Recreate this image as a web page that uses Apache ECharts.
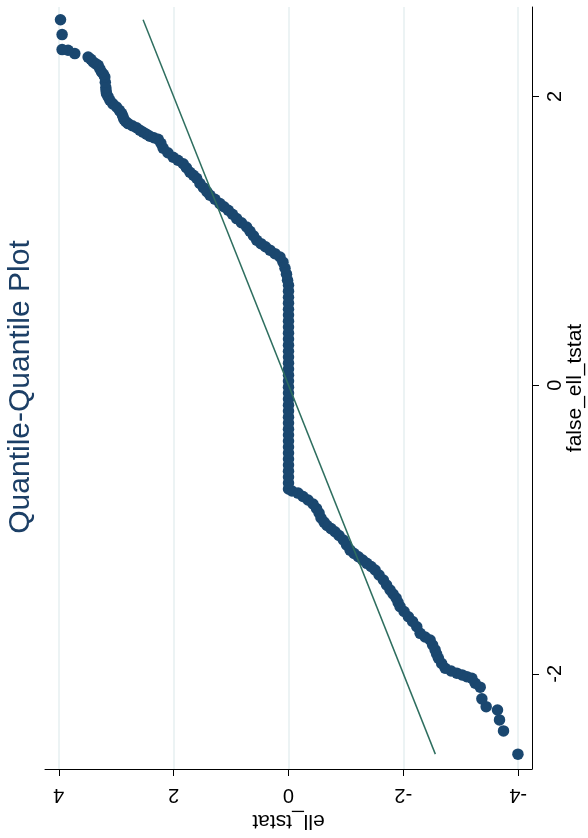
<!DOCTYPE html>
<html>
<head>
<meta charset="utf-8">
<script src="https://cdn.jsdelivr.net/npm/echarts@6/dist/echarts.min.js"></script>
<style>
  html, body { margin: 0; padding: 0; width: 588px; height: 838px; overflow: hidden; background: #ffffff; }
  #chart { position: absolute; left: 0; top: 0; width: 588px; height: 838px; }
</style>
</head>
<body>
<div id="chart"></div>
<script>
// Quantiles of false_ell_tstat, ascending (drawn along the vertical axis on the right)
const falseQ = [
  -2.557, -2.396, -2.320, -2.251, -2.228, -2.174, -2.093, -2.066, -2.031, -2.020,
  -2.008, -1.996, -1.981, -1.962, -1.929, -1.893, -1.863, -1.835, -1.801, -1.766,
  -1.745, -1.720, -1.674, -1.638, -1.605, -1.569, -1.535, -1.506, -1.475, -1.447,
  -1.420, -1.385, -1.350, -1.316, -1.281, -1.257, -1.235, -1.212, -1.189, -1.167,
  -1.143, -1.108, -1.073, -1.042, -1.016, -0.994, -0.973, -0.949, -0.921, -0.886,
  -0.855, -0.824, -0.796, -0.772, -0.748, -0.734,
  -0.720, -0.679, -0.637, -0.596, -0.554, -0.512, -0.471, -0.429, -0.388, -0.346,
  -0.305, -0.263, -0.222, -0.180, -0.139, -0.097, -0.055, -0.014, 0.028, 0.069,
  0.111, 0.152, 0.194, 0.235, 0.277, 0.319, 0.360, 0.402, 0.443, 0.485,
  0.526, 0.568, 0.609, 0.651, 0.692,
  0.727, 0.769, 0.810, 0.852, 0.888, 0.911, 0.935, 0.959, 0.980, 1.004,
  1.035, 1.066, 1.096, 1.125, 1.154, 1.184, 1.212, 1.236, 1.258, 1.288,
  1.316, 1.340, 1.368, 1.397, 1.433, 1.454, 1.475, 1.506, 1.534, 1.558,
  1.579, 1.610, 1.641, 1.676, 1.704, 1.714, 1.724, 1.738, 1.752, 1.766,
  1.783, 1.797, 1.812, 1.825, 1.842, 1.863, 1.884, 1.904, 1.927, 1.949,
  1.974, 1.998, 2.020, 2.039, 2.062, 2.098, 2.135, 2.154, 2.170, 2.192,
  2.216, 2.226, 2.239, 2.258, 2.273, 2.297, 2.320, 2.325, 2.429, 2.532
];

// Matching quantiles of ell_tstat (drawn along the horizontal axis at the bottom)
const ellQ = [
  -3.995, -3.744, -3.674, -3.639, -3.442, -3.367, -3.338, -3.251, -3.193, -3.106,
  -3.024, -2.932, -2.832, -2.728, -2.667, -2.611, -2.579, -2.553, -2.510, -2.466,
  -2.379, -2.292, -2.234, -2.161, -2.088, -2.013, -1.943, -1.909, -1.874, -1.821,
  -1.769, -1.708, -1.652, -1.577, -1.508, -1.438, -1.363, -1.290, -1.217, -1.142,
  -1.072, -1.011, -0.955, -0.880, -0.810, -0.741, -0.671, -0.619, -0.566, -0.532,
  -0.488, -0.427, -0.340, -0.253, -0.166, -0.061,
  0, 0, 0, 0, 0, 0, 0, 0, 0, 0,
  0, 0, 0, 0, 0, 0, 0, 0, 0, 0,
  0, 0, 0, 0, 0, 0, 0, 0, 0, 0,
  0, 0, 0, 0, 0,
  0.017, 0.035, 0.061, 0.096, 0.148, 0.235, 0.322, 0.401, 0.479, 0.554,
  0.610, 0.671, 0.729, 0.819, 0.903, 0.976, 1.049, 1.124, 1.194, 1.281,
  1.368, 1.420, 1.481, 1.542, 1.600, 1.656, 1.717, 1.778, 1.834, 1.926,
  2.008, 2.100, 2.182, 2.222, 2.269, 2.344, 2.414, 2.471, 2.531, 2.588,
  2.646, 2.719, 2.792, 2.832, 2.867, 2.885, 2.907, 2.946, 2.994, 3.059,
  3.111, 3.141, 3.169, 3.176, 3.181, 3.190, 3.198, 3.224, 3.256, 3.285,
  3.315, 3.355, 3.402, 3.442, 3.489, 3.721, 3.838, 3.942, 3.942, 3.970
];

// Tick labels
const falseTicks = [-2, 0, 2];
const ellTicks = [-4, -2, 0, 2, 4];

const FONT = 'Liberation Sans, Arial, Helvetica, sans-serif';
const MARKER = '#1a476f';
const REFLINE = '#2e6e5f';
const GRID = '#e6eff1';
const INK = '#000000';

// one point per quantile pair: [ell_tstat, false_ell_tstat]
const points = ellQ.map((e, i) => [e, falseQ[i]]);

// Line of equality over the range of false_ell_tstat
const lo = Math.min(...falseQ);
const hi = Math.max(...falseQ);
const equality = [[lo, lo], [hi, hi]];

const chart = echarts.init(document.getElementById('chart'), null, { renderer: 'canvas' });

chart.setOption({
  animation: false,
  backgroundColor: '#ffffff',
  textStyle: { fontFamily: FONT },
  graphic: [
    {
      type: 'text',
      x: 21,
      y: 387,
      rotation: Math.PI / 2,
      silent: true,
      style: {
        text: 'Quantile-Quantile Plot',
        fill: '#1c3f66',
        font: 'normal 30px "Liberation Sans", Arial, sans-serif',
        textAlign: 'center',
        textVerticalAlign: 'middle'
      }
    }
  ],
  grid: { left: 45, right: 56, top: 7, bottom: 69, containLabel: false, outerBoundsMode: 'none' },
  xAxis: {
    type: 'value',
    inverse: true,
    position: 'bottom',
    min: -4.24,
    max: 4.24,
    name: 'ell_tstat',
    nameLocation: 'middle',
    nameRotate: 180,
    nameGap: 41,
    nameMoveOverlap: false,
    nameTextStyle: { fontFamily: FONT, fontSize: 21, color: INK },
    axisLine: { show: true, onZero: false, lineStyle: { color: INK, width: 1 } },
    axisTick: { show: true, customValues: ellTicks, length: 7, lineStyle: { color: INK, width: 1 } },
    axisLabel: { customValues: ellTicks, rotate: 180, margin: 16, fontFamily: FONT, fontSize: 20, color: INK },
    splitLine: { show: false }
  },
  yAxis: {
    type: 'value',
    position: 'right',
    min: -2.66,
    max: 2.62,
    name: 'false_ell_tstat',
    nameLocation: 'middle',
    nameRotate: 90,
    nameGap: 33,
    nameMoveOverlap: false,
    nameTextStyle: { fontFamily: FONT, fontSize: 21, color: INK },
    axisLine: { show: true, onZero: false, lineStyle: { color: INK, width: 1 } },
    axisTick: { show: true, customValues: falseTicks, length: 7, lineStyle: { color: INK, width: 1 } },
    axisLabel: { customValues: falseTicks, rotate: 90, margin: 13, fontFamily: FONT, fontSize: 20, color: INK },
    splitLine: { show: false }
  },
  series: [
    {
      // grid lines at the ell_tstat ticks
      type: 'scatter',
      data: [],
      silent: true,
      z: 1,
      markLine: {
        z: 1,
        silent: true,
        symbol: ['none', 'none'],
        label: { show: false },
        lineStyle: { color: GRID, width: 1.5, type: 'solid' },
        emphasis: { disabled: true },
        data: ellTicks.map(v => ({ xAxis: v }))
      }
    },
    {
      name: 'ell_tstat',
      type: 'scatter',
      data: points,
      symbol: 'circle',
      symbolSize: 11.5,
      itemStyle: { color: MARKER, opacity: 1 },
      z: 2
    },
    {
      type: 'line',
      data: equality,
      symbol: 'none',
      silent: true,
      lineStyle: { color: REFLINE, width: 1.5 },
      z: 3
    }
  ]
});
</script>
</body>
</html>
